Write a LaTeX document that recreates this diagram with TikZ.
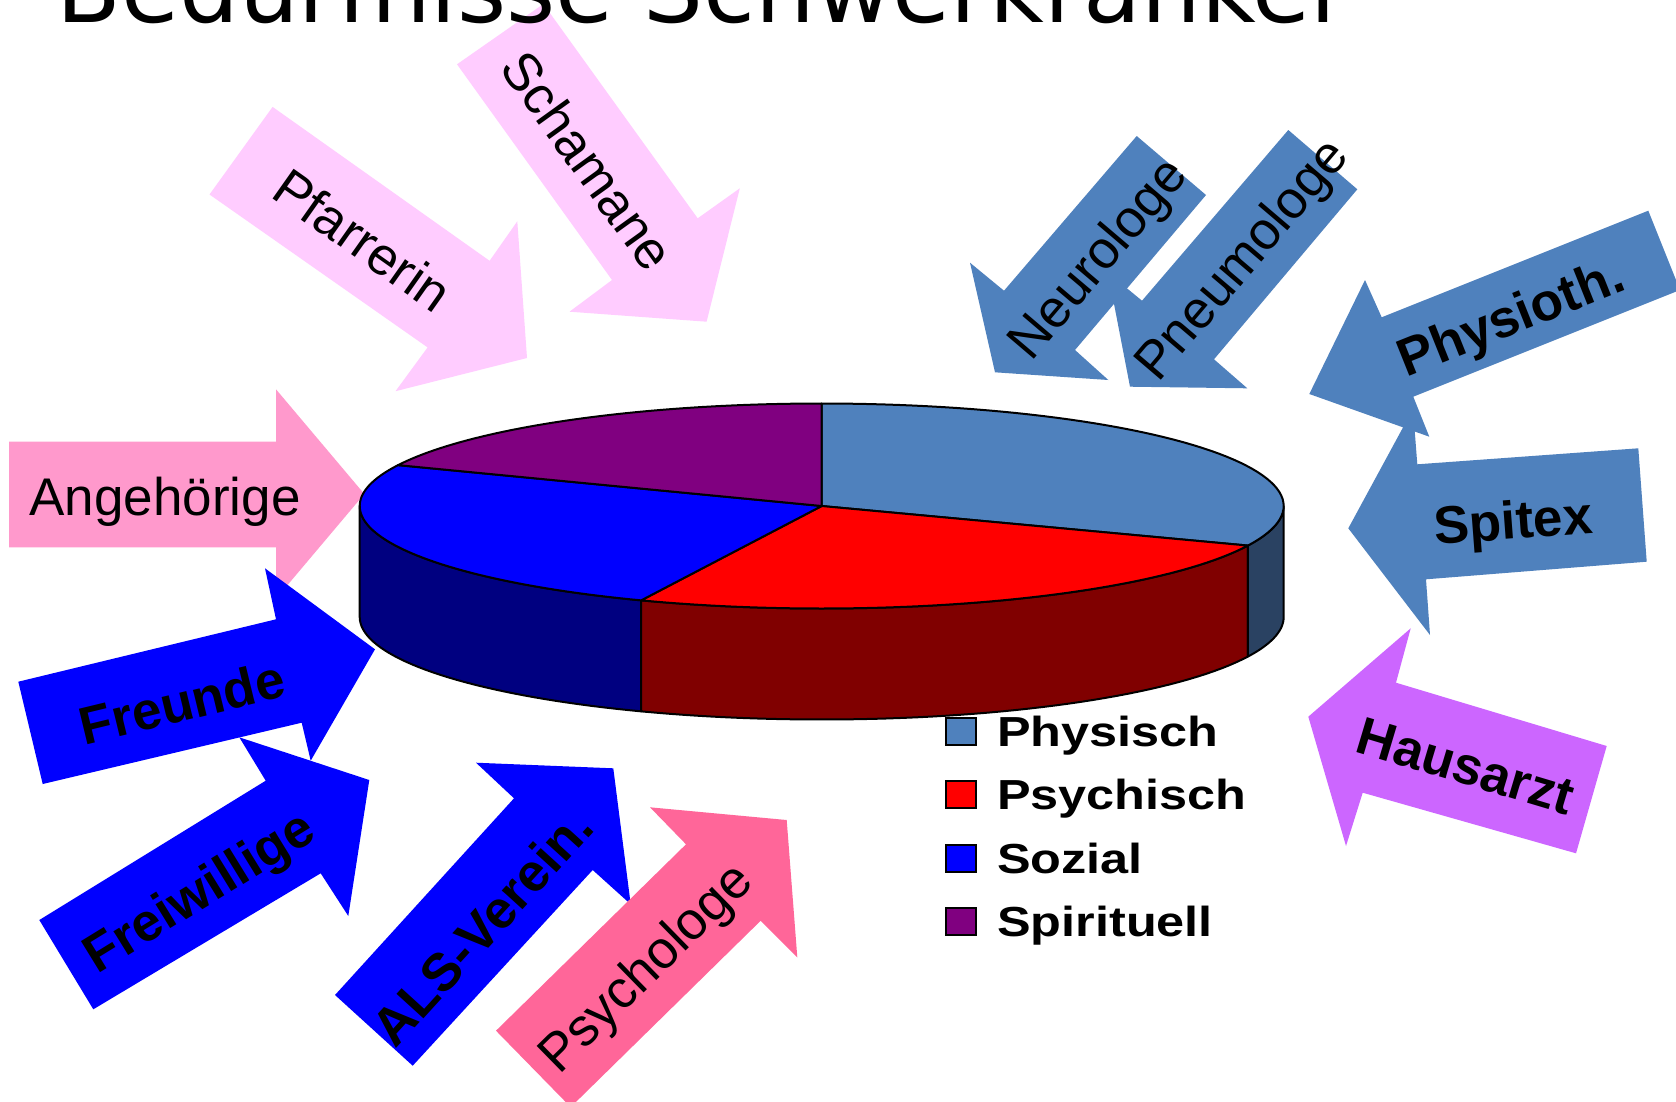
\documentclass[tikz,border=0pt]{standalone}
\usepackage{fontspec}
\usepackage{graphicx}
\setmainfont{Liberation Sans}
\newfontfamily\titlefont{DejaVu Sans}
\definecolor{physblue}{HTML}{4F81BD}
\definecolor{physside}{HTML}{2A4262}
\definecolor{psyred}{HTML}{FF0000}
\definecolor{psyside}{HTML}{800000}
\definecolor{sozblue}{HTML}{0000FF}
\definecolor{sozside}{HTML}{000080}
\definecolor{spirit}{HTML}{800080}
\definecolor{angpink}{HTML}{FF99CC}
\definecolor{lightpink}{HTML}{FFCCFF}
\definecolor{hotpink}{HTML}{FF6699}
\definecolor{lilac}{HTML}{CC66FF}
\begin{document}
\begin{tikzpicture}[x=1pt,y=-1pt,
  lbl/.style={font=\fontsize{53}{60}\selectfont, inner sep=0pt, text height=38pt, text depth=0pt, text=black},
  blbl/.style={lbl, font=\fontsize{53}{60}\selectfont\bfseries},
  pieline/.style={draw=black, line width=2pt, line join=round},
  legsq/.style={draw=black, line width=1.3pt, minimum width=30pt, minimum height=27pt, inner sep=0pt},
  legtxt/.style={font=\fontsize{42}{48}\selectfont\bfseries, inner sep=0pt, anchor=base west}]
\useasboundingbox (0,0) rectangle (1676,1101);
\fill[white] (0,0) rectangle (1676,1101);

% ---------- arrows ----------
\fill[angpink] (9,441.7) -- (276,441.7) -- (276,389.3) -- (364.3,494) -- (276,598.7) -- (276,547.3) -- (9,547.3) -- cycle;
\fill[lightpink] (272.6,106.9) -- (489.6,260.8) -- (517.3,221.3) -- (527,358) -- (395.5,391.2) -- (427.6,347.4) -- (209.5,194.5) -- cycle;
\fill[lightpink] (543.4,4) -- (697.7,218.3) -- (739.8,188.3) -- (706.6,321.7) -- (569.5,311.7) -- (612,280) -- (457,64.3) -- cycle;
\fill[physblue] (1136.7,136) -- (1206,195) -- (1075,350) -- (1108.3,380) -- (995,372.3) -- (970,262.7) -- (1004,290.7) -- cycle;
\fill[physblue] (1288.3,130) -- (1357.3,189.3) -- (1214,359.3) -- (1247.3,388.3) -- (1130,386.7) -- (1108,272.7) -- (1142,300.7) -- cycle;
\fill[physblue] (1638.3,448.3) -- (1417.3,464.3) -- (1413,409) -- (1348.3,528.3) -- (1430,635) -- (1426,579.3) -- (1646.7,561.7) -- cycle;
\fill[physblue] (1648.3,210.7) -- (1381.7,317.3) -- (1365,280) -- (1309.3,394) -- (1429.3,436.7) -- (1413.3,396.7) -- (1680,290) -- cycle;
\fill[lilac] (1606.7,746) -- (1396,682.7) -- (1410.7,628.3) -- (1308.3,716.7) -- (1346,846) -- (1362.7,792.7) -- (1576,853.3) -- cycle;
\fill[sozblue] (18.3,681.7) -- (276,619.3) -- (265,568.3) -- (375,649.3) -- (310.7,760.7) -- (301.7,722.7) -- (42.7,784) -- cycle;
\fill[sozblue] (39.3,920) -- (265.7,780.7) -- (239.3,737.3) -- (369.3,780) -- (348.3,916) -- (320.7,873.3) -- (93.3,1009.3) -- cycle;
\fill[sozblue] (335,995) -- (514,798.3) -- (476,762.7) -- (613.3,768.3) -- (630.7,904.3) -- (592.7,870) -- (412.7,1065.7) -- cycle;
\fill[hotpink] (496,1030.7) -- (686,844.3) -- (650,807.3) -- (786.7,820) -- (797.3,957.3) -- (760.7,920.7) -- (570.7,1107.1) -- cycle;

% ---------- arrow labels ----------
\node[lbl] (angeh) at (165,496) {Angehörige};
\node[lbl, rotate=-35.2] (pfarr) at (363,240) {Pfarrerin};
\node[lbl, rotate=-54.3] (scham) at (588,160) {Schamane};
\node[lbl, rotate=49.6] (neuro) at (1096,257) {Neurologe};
\node[lbl, rotate=49.6] (pneumo) at (1240,258) {Pneumologe};
\node[blbl, rotate=21.8] (physio) at (1510,316) {Physioth.};
\node[blbl, rotate=4.3] (spitex) at (1513,520) {Spitex};
\node[blbl, rotate=-16.7] (haus) at (1466,765) {Hausarzt};
\node[blbl, rotate=13.6] (freunde) at (182,702) {Freunde};
\node[blbl, rotate=31.6] (freiw) at (198,890) {Freiwillige};
\node[blbl, rotate=47.7] (als) at (482,927) {ALS-Verein.};
\node[lbl, rotate=44.4] (psycho) at (644,966) {Psychologe};

% ---------- 3D pie ----------
\def\cx{821.7}\def\cy{506}\def\pa{462}\def\pb{102.5}\def\pd{111}
\filldraw[pieline, fill=sozside] plot[domain=180:247, samples=40, variable=\t] ({\cx+\pa*cos(\t)},{\cy-\pb*sin(\t)}) -- plot[domain=247:180, samples=40, variable=\t] ({\cx+\pa*cos(\t)},{\cy+\pd-\pb*sin(\t)}) -- cycle;
\filldraw[pieline, fill=psyside] plot[domain=247:337.3, samples=50, variable=\t] ({\cx+\pa*cos(\t)},{\cy-\pb*sin(\t)}) -- plot[domain=337.3:247, samples=50, variable=\t] ({\cx+\pa*cos(\t)},{\cy+\pd-\pb*sin(\t)}) -- cycle;
\filldraw[pieline, fill=physside] plot[domain=337.3:360, samples=20, variable=\t] ({\cx+\pa*cos(\t)},{\cy-\pb*sin(\t)}) -- plot[domain=360:337.3, samples=20, variable=\t] ({\cx+\pa*cos(\t)},{\cy+\pd-\pb*sin(\t)}) -- cycle;
\filldraw[pieline, fill=physblue] (\cx,\cy) -- plot[domain=90:-22.7, samples=60, variable=\t] ({\cx+\pa*cos(\t)},{\cy-\pb*sin(\t)}) -- cycle;
\filldraw[pieline, fill=psyred] (\cx,\cy) -- plot[domain=-22.7:-113, samples=60, variable=\t] ({\cx+\pa*cos(\t)},{\cy-\pb*sin(\t)}) -- cycle;
\filldraw[pieline, fill=sozblue] (\cx,\cy) -- plot[domain=-113:-203.5, samples=60, variable=\t] ({\cx+\pa*cos(\t)},{\cy-\pb*sin(\t)}) -- cycle;
\filldraw[pieline, fill=spirit] (\cx,\cy) -- plot[domain=-203.5:-270, samples=50, variable=\t] ({\cx+\pa*cos(\t)},{\cy-\pb*sin(\t)}) -- cycle;

% ---------- legend ----------
\node[legsq, fill=physblue] (lg1) at (961,731.5) {};
\node[legsq, fill=psyred] (lg2) at (961,794.5) {};
\node[legsq, fill=sozblue] (lg3) at (961,858.5) {};
\node[legsq, fill=spirit] (lg4) at (961,921.5) {};
\node[legtxt] (lt1) at (997,746.5) {\scalebox{1.2}[1]{Physisch}};
\node[legtxt] (lt2) at (997,809.5) {\scalebox{1.2}[1]{Psychisch}};
\node[legtxt] (lt3) at (997,873.5) {\scalebox{1.2}[1]{Sozial}};
\node[legtxt] (lt4) at (997,936.5) {\scalebox{1.2}[1]{Spirituell}};

% ---------- title ----------
\node[anchor=base west, inner sep=0pt] (title) at (56,22) {\resizebox{1293pt}{!}{\titlefont Bedürfnisse Schwerkranker}};
\end{tikzpicture}
\end{document}
